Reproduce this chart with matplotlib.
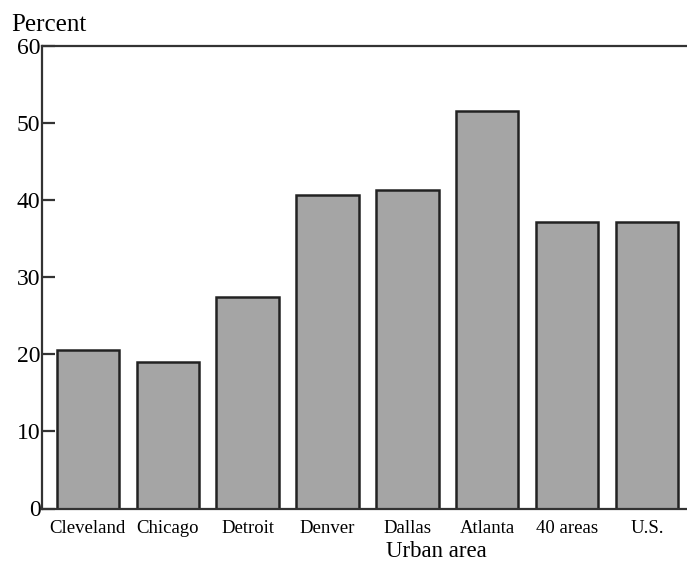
import matplotlib
matplotlib.use("Agg")
import matplotlib.pyplot as plt

# 数据: 各城市区域百分比
areas = ["Cleveland", "Chicago", "Detroit", "Denver", "Dallas", "Atlanta", "40 areas", "U.S."]
percent = [20.5, 19.0, 27.5, 40.7, 41.3, 51.6, 37.2, 37.2]
yticks = [0, 10, 20, 30, 40, 50, 60]

plt.rcParams["font.family"] = ["Liberation Serif", "DejaVu Serif"]

fig = plt.figure(figsize=(6.87, 5.65), dpi=100)
ax = fig.add_axes([0.061, 0.1, 0.939, 0.8186])

x = range(len(areas))
ax.bar(x, percent, width=0.78, color="#a5a5a5", edgecolor="#222222", linewidth=1.8)

ax.set_xlim(-0.575, 7.5)
ax.set_ylim(0, 60)
ax.set_yticks(yticks)
ax.set_xticks(list(x))
ax.set_xticklabels(areas, fontsize=13.5)
ax.tick_params(axis="y", direction="in", length=9, width=1.6, labelsize=17, pad=1, color="#333333")
ax.tick_params(axis="x", length=0, pad=8)

for s in ["left", "bottom", "top"]:
    ax.spines[s].set_linewidth(1.6)
    ax.spines[s].set_color("#333333")
ax.spines["right"].set_visible(False)

ax.set_xlabel("Urban area", fontsize=16.5)
ax.xaxis.set_label_coords(0.611, -0.07)
fig.text(0.017, 0.955, "Percent", fontsize=18, ha="left", va="center")

fig.savefig("out.png", dpi=100)
